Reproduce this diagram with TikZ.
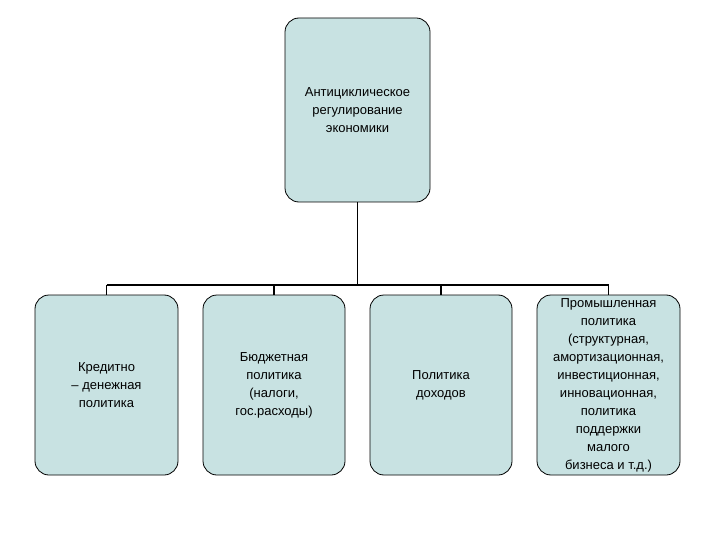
\documentclass[tikz,border=0pt]{standalone}
\usepackage{fontspec}
\setmainfont{Liberation Sans}
\begin{document}
\begin{tikzpicture}[x=1pt,y=-1pt,
  box/.style={draw=black,line width=0.8pt,fill={rgb,255:red,200;green,226;blue,226},rounded corners=14pt,align=center,inner sep=2pt,font=\fontsize{13}{18}\selectfont},
  conn/.style={line width=1.6pt,black}]
\useasboundingbox (0,0) rectangle (720,540);
\node[box,minimum width=145pt,minimum height=184pt] (top) at (357.5,110) {Антициклическое\\регулирование\\экономики};
\node[box,minimum width=143pt,minimum height=180pt] (b1) at (106.5,385) {Кредитно\\– денежная\\политика};
\node[box,minimum width=142pt,minimum height=180pt] (b2) at (274,385) {Бюджетная\\политика\\(налоги,\\гос.расходы)};
\node[box,minimum width=142pt,minimum height=180pt] (b3) at (441,385) {Политика\\доходов};
\node[box,minimum width=143pt,minimum height=180pt] (b4) at (608.5,385) {Промышленная\\политика\\(структурная,\\амортизационная,\\инвестиционная,\\инновационная,\\политика\\поддержки\\малого\\бизнеса и т.д.)};
\coordinate (j) at (357.5,285);
\draw[conn] (top.south) -- (j);
\draw[conn] (b1.north |- j) -- (b4.north |- j);
\foreach \b in {b1,b2,b3,b4} \draw[conn] (\b.north |- j) -- (\b.north);
\end{tikzpicture}
\end{document}
